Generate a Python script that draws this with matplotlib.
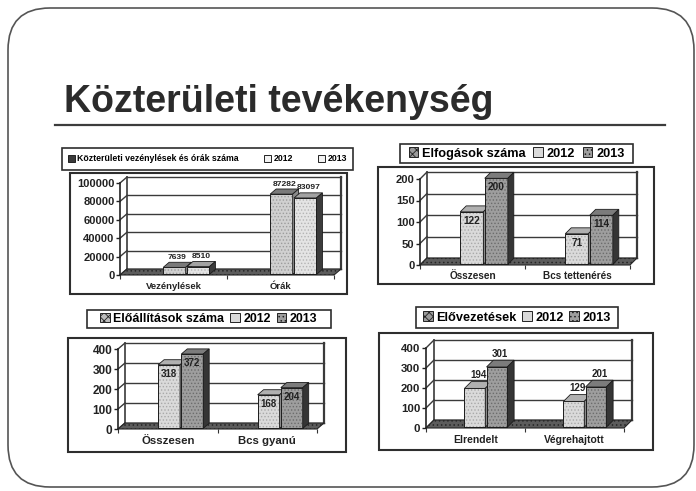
import matplotlib
matplotlib.use('Agg')
import matplotlib.pyplot as plt
from matplotlib.patches import Rectangle, Polygon, Patch, FancyBboxPatch
from matplotlib.lines import Line2D

plt.rcParams['font.family'] = ['Liberation Sans', 'DejaVu Sans']
plt.rcParams['font.weight'] = 'bold'
plt.rcParams['hatch.linewidth'] = 0.6

W, H = 696, 491

# ---- data ----
title = 'Közterületi tevékenység'
years = ['2012', '2013']

name1 = 'Közterületi vezénylések és órák száma'
cats1 = ['Vezénylések', 'Órák']
v1_2012 = [7639, 87282]
v1_2013 = [8510, 83097]
yticks1 = [0, 20000, 40000, 60000, 80000, 100000]

name2 = 'Elfogások száma'
cats2 = ['Összesen', 'Bcs tettenérés']
v2_2012 = [122, 71]
v2_2013 = [200, 114]
yticks2 = [0, 50, 100, 150, 200]

name3 = 'Előállítások száma'
cats3 = ['Összesen', 'Bcs gyanú']
v3_2012 = [318, 168]
v3_2013 = [372, 204]
yticks3 = [0, 100, 200, 300, 400]

name4 = 'Elővezetések'
cats4 = ['Elrendelt', 'Végrehajtott']
v4_2012 = [194, 129]
v4_2013 = [301, 201]
yticks4 = [0, 100, 200, 300, 400]


def fx(px):
    return px / W


def fy(py):
    return 1 - py / H


fig = plt.figure(figsize=(W / 100, H / 100), dpi=100)
fig.patch.set_facecolor('white')

# slide outline
fig.patches.append(FancyBboxPatch((8 / 100, (H - 487) / 100), 686 / 100, 479 / 100,
                                  boxstyle='round,pad=0,rounding_size=0.42',
                                  transform=fig.dpi_scale_trans, fill=False,
                                  ec='#555555', lw=1.2))
fig.text(fx(64), fy(112), title, fontsize=27, weight='bold', color='#2b2b2b', va='baseline')
fig.lines.append(Line2D([fx(55), fx(665)], [fy(125), fy(125)], transform=fig.transFigure,
                        color='#3c3c3c', lw=1.6))

# faces: (front, hatch, top, side)
STYLE_A = [('#dadada', '#a9a9a9', '#b0b0b0', '#8a8a8a'),
           ('#9e9e9e', '#6c6c6c', '#7c7c7c', '#353535')]
STYLE_B = [('#d0d0d0', '#9c9c9c', '#7a7a7a', '#8a8a8a'),
           ('#e4e4e4', '#b4b4b4', '#a2a2a2', '#3c3c3c')]


def draw_chart(name, cats, s12, s13, yticks, lay):
    # outer frame and legend box
    x0, y0, x1, y1 = lay['frame']
    fig.patches.append(Rectangle((fx(x0), fy(y1)), fx(x1) - fx(x0), fy(y0) - fy(y1),
                                 transform=fig.transFigure, fill=False, ec='#2e2e2e', lw=1.5))
    lx0, ly0, lx1, ly1 = lay['legend']
    fig.patches.append(Rectangle((fx(lx0), fy(ly1)), fx(lx1) - fx(lx0), fy(ly0) - fy(ly1),
                                 transform=fig.transFigure, fill=False, ec='#2e2e2e', lw=1.2))
    styles = lay['styles']
    handles = [Patch(fc=lay['h0'], ec='#222222', lw=0.7, hatch=lay.get('h0hatch'))]
    for st in styles:
        handles.append(Patch(fc=st[0] if lay['legfill'] else '#f2f2f2', ec='#222222', lw=0.7,
                             hatch='....' if st[0] < '#b' and lay['legfill'] else None))
    fig.legend(handles, [name] + years, loc='center', ncol=3, frameon=False,
               bbox_to_anchor=(fx((lx0 + lx1) / 2), fy((ly0 + ly1) / 2)),
               fontsize=lay['legfs'], handlelength=0.75, handleheight=0.75,
               handletextpad=0.3, columnspacing=lay['colsp'], borderpad=0, borderaxespad=0)

    # plotting area (front axis to back wall)
    ax_x, wall_r, f0, ftop, dx, dy = lay['axis']
    ymax = yticks[-1]
    upp = ymax / (f0 - ftop)
    ddy = dy * upp
    cat_px = (wall_r - dx - ax_x) / 2
    ddx = dx / cat_px
    ax = fig.add_axes([fx(ax_x), fy(f0), fx(wall_r) - fx(ax_x), (f0 - ftop + dy) / H])
    ax.set_xlim(-0.5, 1.5 + ddx)
    ax.set_ylim(0, ymax + ddy)
    ax.patch.set_alpha(0)
    for sp in ['top', 'right', 'bottom']:
        ax.spines[sp].set_visible(False)
    ax.spines['left'].set_bounds(0, ymax)
    ax.spines['left'].set_color('#222222')
    ax.spines['left'].set_linewidth(1.2)

    gc = '#3a3a3a'
    for t in yticks:
        ax.plot([-0.5 + ddx, 1.5 + ddx], [t + ddy, t + ddy], color=gc, lw=1.0, clip_on=False, zorder=1)
        ax.plot([-0.5, -0.5 + ddx], [t, t + ddy], color=gc, lw=1.0, clip_on=False, zorder=1)
    ax.plot([-0.5 + ddx] * 2, [ddy, ymax + ddy], color=gc, lw=1.2, clip_on=False, zorder=1)
    ax.plot([1.5 + ddx] * 2, [ddy, ymax + ddy], color=gc, lw=1.6, clip_on=False, zorder=1)
    ax.add_patch(Polygon([(-0.5, 0), (1.5, 0), (1.5 + ddx, ddy), (-0.5 + ddx, ddy)],
                         closed=True, fc='#5c5c5c', ec='#262626', lw=0.8, hatch='....',
                         clip_on=False, zorder=2))

    ax.set_yticks(yticks)
    ax.set_yticklabels([str(t) for t in yticks])
    ax.tick_params(axis='y', direction='out', length=3, width=1, pad=1,
                   labelsize=lay['yfs'], colors='#222222')
    ax.set_xticks([0, 1])
    ax.set_xticklabels(cats)
    ax.tick_params(axis='x', length=0, pad=lay['xpad'], labelsize=lay['xfs'], labelcolor='#222222')
    ax.set_xticks([-0.5, 0.5, 1.5], minor=True)
    ax.tick_params(axis='x', which='minor', length=3, width=0.8, color='#333333')

    bw = lay['bw']
    shift = lay['shift']
    bdx, bdy = ddx * 0.85, ddy * 0.85
    b0 = ddy * 0.1
    for j, vals in enumerate([s12, s13]):
        front, hcol, topc, sidec = styles[j]
        xc = [i + shift + (j - 0.5) * bw * 1.06 for i in range(len(cats))]
        ax.bar(xc, vals, width=bw, bottom=b0, color=front, edgecolor=hcol, hatch='.....',
               linewidth=0, zorder=3, clip_on=False)
        ax.bar(xc, vals, width=bw, bottom=b0, fill=False, edgecolor='#1c1c1c',
               linewidth=0.7, zorder=3, clip_on=False)
        for x, v in zip(xc, vals):
            xl, xr, tp = x - bw / 2, x + bw / 2, b0 + v
            ax.add_patch(Polygon([(xl, tp), (xr, tp), (xr + bdx, tp + bdy), (xl + bdx, tp + bdy)],
                                 closed=True, fc=topc, ec='#1c1c1c', lw=0.6, zorder=3, clip_on=False))
            ax.add_patch(Polygon([(xr, b0), (xr + bdx, b0 + bdy), (xr + bdx, tp + bdy), (xr, tp)],
                                 closed=True, fc=sidec, ec='#1c1c1c', lw=0.6, zorder=3, clip_on=False))
            if lay['lab'] == 'above':
                ax.text(x + bdx / 2, tp + bdy + upp * 1.5, str(v), ha='center', va='bottom',
                        fontsize=lay['vfs'], color='#222222', zorder=4)
            else:
                ax.text(x, tp - upp * 4, str(v), ha='center', va='top',
                        fontsize=lay['vfs'], color='#222222', zorder=4)
    return ax


lay1 = dict(frame=(70, 173, 347, 294), legend=(62, 148, 353, 170), styles=STYLE_B,
            h0='#3a3a3a', legfill=False, legfs=6.3, colsp=2.9,
            axis=(120, 341, 275, 183, 7, 6), bw=0.21, shift=0.12,
            yfs=8, xfs=6.8, xpad=5, vfs=6.1, lab='above')
lay2 = dict(frame=(378, 167, 654, 284), legend=(400, 144, 633, 163), styles=STYLE_A,
            h0='#9a9a9a', h0hatch='xxxx', legfill=True, legfs=9.2, colsp=0.6,
            axis=(420, 637, 265, 179, 7, 7), bw=0.22, shift=0.11,
            yfs=8, xfs=7.2, xpad=4, vfs=7.2, lab='inside')
lay3 = dict(frame=(68, 338, 346, 452), legend=(87, 310, 331, 328), styles=STYLE_A,
            h0='#bcbcbc', h0hatch='xxxx', legfill=True, legfs=8.9, colsp=0.5,
            axis=(118, 324, 429, 349, 7, 6), bw=0.22, shift=0.13,
            yfs=8.5, xfs=8.2, xpad=5, vfs=7, lab='inside')
lay4 = dict(frame=(379, 333, 653, 450), legend=(416, 307, 618, 328), styles=STYLE_A,
            h0='#9a9a9a', h0hatch='xxxx', legfill=True, legfs=9.2, colsp=0.4,
            axis=(426, 632, 428, 348, 8, 8), bw=0.21, shift=0.105,
            yfs=8.2, xfs=7.5, xpad=5, vfs=7, lab='above')

draw_chart(name1, cats1, v1_2012, v1_2013, yticks1, lay1)
draw_chart(name2, cats2, v2_2012, v2_2013, yticks2, lay2)
draw_chart(name3, cats3, v3_2012, v3_2013, yticks3, lay3)
draw_chart(name4, cats4, v4_2012, v4_2013, yticks4, lay4)

fig.savefig('out.png', dpi=100)
